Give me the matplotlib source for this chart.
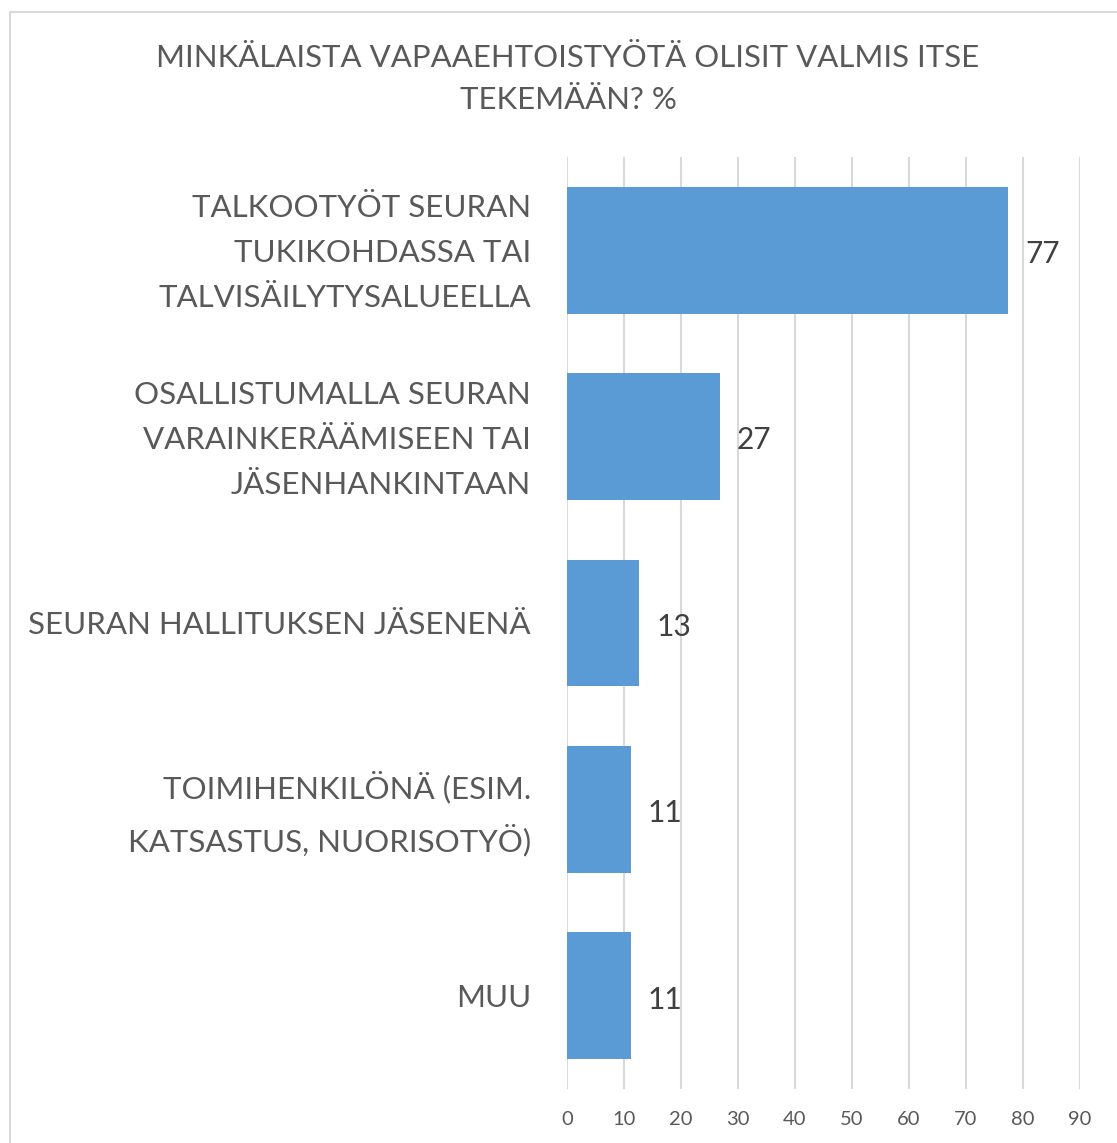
import numpy as np
import matplotlib
matplotlib.use('Agg')
import matplotlib.pyplot as plt
import matplotlib.transforms as mtransforms
from matplotlib.patches import Rectangle

categories = ["TALKOOTYÖT SEURAN\nTUKIKOHDASSA TAI\nTALVISÄILYTYSALUEELLA",
              "OSALLISTUMALLA SEURAN\nVARAINKERÄÄMISEEN TAI\nJÄSENHANKINTAAN",
              "SEURAN HALLITUKSEN JÄSENENÄ",
              "TOIMIHENKILÖNÄ (ESIM.\nKATSASTUS, NUORISOTYÖ)",
              "MUU"]
values = [77.4, 26.8, 12.7, 11.2, 11.2]
xticks = list(range(0, 100, 10))
title = "MINKÄLAISTA VAPAAEHTOISTYÖTÄ OLISIT VALMIS ITSE\nTEKEMÄÄN? %"

plt.rcParams['font.family'] = ['Lato', 'DejaVu Sans']
text_col = '#595959'

fig = plt.figure(figsize=(11.17, 11.43), dpi=100)
fig.patches.append(Rectangle((10/1117, -0.01), 1.1, 1 - 12/1143 + 0.01,
                             transform=fig.transFigure, fill=False,
                             edgecolor='#d9d9d9', linewidth=1.5))
ax = fig.add_axes([567/1117, 1 - 1089/1143, 513/1117, 932/1143])

y = np.arange(len(categories))
ax.barh(y, values, height=0.68, color='#5b9bd5', zorder=3)
for yi, v in zip(y, values):
    ax.text(v + 3, yi + 0.02, "{:.0f}".format(v), va='center', ha='left',
            fontsize=21.5, color='#404040')

ax.set_xlim(0, 90)
ax.set_ylim(len(categories) - 0.5, -0.5)
ax.set_xticks(xticks)
ax.set_yticks(y)
ax.set_yticklabels(categories, fontsize=22.5, color=text_col, linespacing=1.74,
                   ha='right')
ax.tick_params(axis='y', length=0, pad=26)
ax.tick_params(axis='x', length=0, pad=16, labelsize=14.5, labelcolor=text_col)
# multi-line labels sit a bit higher in the original
shift = mtransforms.ScaledTranslation(0, 8/100, fig.dpi_scale_trans)
for lbl in ax.get_yticklabels():
    if '\n' in lbl.get_text():
        lbl.set_transform(lbl.get_transform() + shift)
ax.grid(axis='x', color='#d9d9d9', linewidth=1.5, zorder=0)
for s in ax.spines.values():
    s.set_visible(False)

fig.text(568/1117, 1 - 79/1143, title, ha='center', va='center', fontsize=22.4,
         color=text_col, linespacing=1.6)

plt.savefig('out.png', dpi=100)
